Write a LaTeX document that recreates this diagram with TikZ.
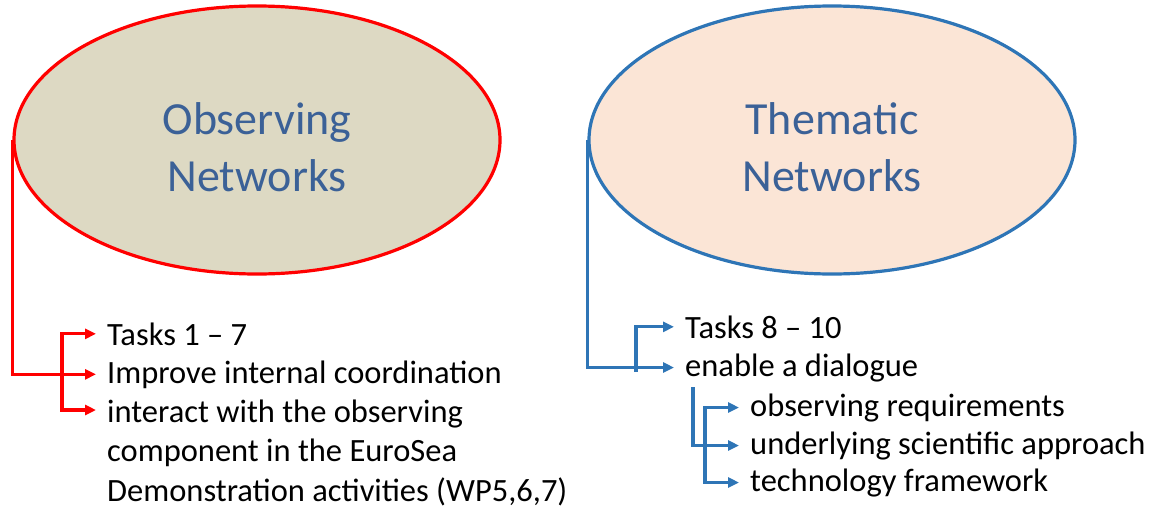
\documentclass[tikz,border=0pt]{standalone}
\usepackage{fontspec}
\setmainfont{Carlito}
\usetikzlibrary{shapes.geometric,arrows.meta}
\definecolor{obsred}{HTML}{FF0000}
\definecolor{thmblue}{HTML}{2E75B6}
\definecolor{obsfill}{HTML}{DDD9C3}
\definecolor{thmfill}{HTML}{FBE5D6}
\definecolor{titleblue}{HTML}{3B6197}
\tikzset{
  netell/.style={ellipse, line width=3.2pt, minimum width=486pt, minimum height=268pt},
  title/.style={align=center, text=titleblue, font=\fontsize{46}{57}\selectfont},
  item/.style={anchor=base west, inner sep=0pt, align=left, font=\fontsize{32.5}{39.5}\selectfont},
  redarr/.style={draw=obsred, line width=3.2pt, -{Triangle[length=11pt,width=10pt]}, shorten >=11pt},
  bluearr/.style={draw=thmblue, line width=3.2pt, -{Triangle[length=11pt,width=10pt]}, shorten >=11pt}
}
\begin{document}
\begin{tikzpicture}[x=1pt,y=-1pt]
      \useasboundingbox (0,0) rectangle (1151,509);
      % the two networks
      \node[netell, draw=obsred, fill=obsfill] (obs) at (257,140) {};
      \node[netell, draw=thmblue, fill=thmfill] (thm) at (832,140) {};
      \node[title] (obst) at (257,147) {Observing\\Networks};
      \node[title] (thmt) at (832,147) {Thematic\\Networks};
      % left list
      \node[item] (tk1) at (107,345) {Tasks 1 – 7};
      \node[item] (imp) at (107,383) {Improve internal coordination};
      \node[item] (int) at (107,501) {interact with the observing\\component in the EuroSea\\Demonstration activities (WP5,6,7)};
      \coordinate (lj) at (62,373);
      \path[redarr] (obs.west) |- (imp.west);
      \path[redarr] (lj) |- (tk1.west);
      \path[redarr] (lj) |- ([yshift=91pt]int.base west);
      % right list
      \node[item] (tk2) at (685,338) {Tasks 8 – 10};
      \node[item] (dia) at (685,376) {enable a dialogue};
      \node[item] (req) at (750,416) {observing requirements};
      \node[item] (sci) at (750,454) {underlying scientific approach};
      \node[item] (tec) at (750,491) {technology framework};
      \coordinate (rj) at (636,372);
      \coordinate (sj0) at (693,387);
      \coordinate (sj) at (705,447);
      \path[bluearr] (thm.west) |- (dia.west);
      \path[bluearr] (rj) |- (tk2.west);
      \path[bluearr] (sj0) |- (sci.west);
      \path[bluearr] (sj) |- (req.west);
      \path[bluearr] (sj) |- (tec.west);
\end{tikzpicture}
\end{document}
